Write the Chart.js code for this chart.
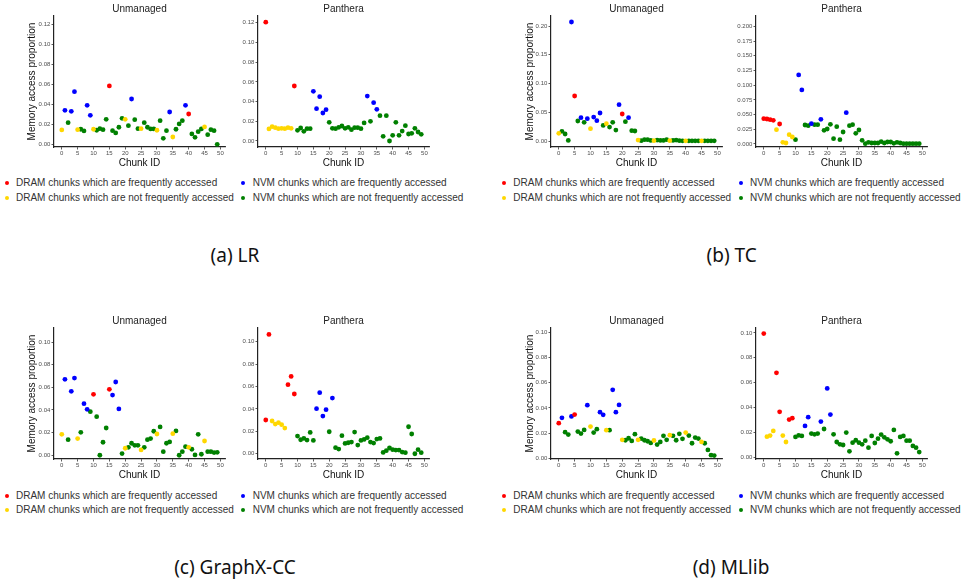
<!DOCTYPE html>
<html><head><meta charset="utf-8">
<script src="https://cdn.jsdelivr.net/npm/chart.js@4.4.1/dist/chart.umd.min.js"></script>
<style>
html,body{margin:0;padding:0;background:#fff;}
#fig{position:relative;width:966px;height:585px;overflow:hidden;font-family:'Liberation Sans',Arial,sans-serif;}
canvas{position:absolute;}
.leg{position:absolute;font-size:10px;color:#333;white-space:nowrap;line-height:12px;}
.dot{position:absolute;width:4px;height:4px;border-radius:50%;}
.cap{position:absolute;font-family:'Noto Sans',sans-serif;font-size:19px;color:#111;transform:translateX(-50%);white-space:nowrap;line-height:24px;}
</style></head><body><div id="fig"></div>
<script>
// ---------- data ----------
const chunkIds = Array.from({length: 50}, (_, i) => i);
const xTicks = [0, 5, 10, 15, 20, 25, 30, 35, 40, 45, 50];
const yTicksLR = [0, 0.02, 0.04, 0.06, 0.08, 0.10, 0.12];
const yTicksTCU = [0, 0.05, 0.10, 0.15, 0.20];
const yTicksTCP = [0, 0.025, 0.05, 0.075, 0.1, 0.125, 0.15, 0.175, 0.2];
const yTicksCC = [0, 0.02, 0.04, 0.06, 0.08, 0.10];
const yTicksML = [0, 0.02, 0.04, 0.06, 0.08, 0.10];

const seriesNames = [
  'DRAM chunks which are frequently accessed',
  'DRAM chunks which are not frequently accessed',
  'NVM chunks which are frequently accessed',
  'NVM chunks which are not frequently accessed'
];
const seriesCodes = ['R', 'Y', 'B', 'G'];
const seriesColors = ['#FF0000', '#FFD700', '#0000FF', '#008000'];

// (a) LR
const lrUnmanaged = [0.0143,0.0339,0.0216,0.0329,0.0525,0.0146,0.0150,0.0133,0.0389,0.0289,
  0.0150,0.0140,0.0156,0.0146,0.0249,0.0582,0.0136,0.0113,0.0170,0.0259,
  0.0249,0.0186,0.0452,0.0246,0.0156,0.0156,0.0216,0.0170,0.0153,0.0153,
  0.0140,0.0236,0.0060,0.0136,0.0322,0.0073,0.0150,0.0203,0.0236,0.0389,
  0.0302,0.0103,0.0070,0.0126,0.0153,0.0173,0.0096,0.0146,0.0136,0.0000];
const lrUnmanagedClass = "YBGBBYGGBB" + "YGGGGRGGGG" + "YGBGGYGGGG" + "YGGGBYGGGB" + "RGGGGYGGGG";
const lrPanthera = [0.1205,0.0122,0.0145,0.0135,0.0125,0.0128,0.0125,0.0135,0.0128,0.0558,
  0.0108,0.0132,0.0098,0.0125,0.0125,0.0504,0.0328,0.0450,0.0284,0.0318,
  0.0189,0.0128,0.0125,0.0139,0.0152,0.0128,0.0139,0.0115,0.0135,0.0135,
  0.0125,0.0183,0.0456,0.0199,0.0389,0.0321,0.0257,0.0047,0.0257,0.0000,
  0.0057,0.0189,0.0057,0.0101,0.0155,0.0071,0.0078,0.0128,0.0091,0.0068];
const lrPantheraClass = "RYYYYYYYYR" + "GGGGGBBBBB" + "GGGGGGGGGG" + "GGBGBBGGGG" + "GGGGGGGGGG";

// (b) TC
const tcUnmanaged = [0.0133,0.0168,0.0122,0.0010,0.2070,0.0783,0.0348,0.0406,0.0325,0.0388,
  0.0214,0.0417,0.0354,0.0487,0.0272,0.0301,0.0243,0.0325,0.0191,0.0632,
  0.0470,0.0336,0.0406,0.0180,0.0174,0.0017,0.0006,0.0023,0.0023,0.0010,
  0.0006,0.0017,0.0010,0.0010,0.0023,0.0006,0.0010,0.0017,0.0006,0.0003,
  0.0003,0.0003,0.0003,0.0003,0.0003,0.0003,0.0003,0.0003,0.0003,0.0003];
const tcUnmanagedClass = "YGGGBRGBGB" + "YBBBGYGGGB" + "RGBGGYGGGG" + "YGGGGYGGGG" + "YGGGGYGGGG";
const tcPanthera = [0.0431,0.0425,0.0414,0.0402,0.0244,0.0340,0.0028,0.0017,0.0159,0.0119,
  0.0074,0.1173,0.0918,0.0323,0.0312,0.0346,0.0329,0.0329,0.0419,0.0232,
  0.0255,0.0334,0.0091,0.0295,0.0074,0.0204,0.0533,0.0312,0.0329,0.0181,
  0.0238,0.0062,0.0006,0.0028,0.0017,0.0017,0.0017,0.0040,0.0017,0.0034,
  0.0034,0.0011,0.0028,0.0017,0.0006,0.0005,0.0005,0.0005,0.0005,0.0005];
const tcPantheraClass = "RRRRYRYYYY" + "GBBGGBGGBG" + "GGGGGGBGGG" + "GGGGGGGGGG" + "GGGGGGGGGG";

// (c) GraphX-CC
const ccUnmanaged = [0.0185,0.0671,0.0138,0.0565,0.0682,0.0147,0.0203,0.0456,0.0406,0.0385,
  0.0538,0.0341,0.0000,0.0115,0.0241,0.0582,0.0532,0.0647,0.0409,0.0015,
  0.0062,0.0070,0.0106,0.0088,0.0088,0.0047,0.0070,0.0138,0.0147,0.0212,
  0.0188,0.0250,0.0032,0.0106,0.0118,0.0191,0.0215,0.0000,0.0032,0.0076,
  0.0070,0.0053,0.0003,0.0185,0.0009,0.0126,0.0032,0.0032,0.0024,0.0026];
const ccUnmanagedClass = "YBGBBYGBBG" + "RGGGGRBBBG" + "YGGGGYGGGG" + "YGGGGYGGGG" + "YGGGGYGGGG";
const ccPanthera = [0.0301,0.1065,0.0292,0.0265,0.0277,0.0259,0.0229,0.0616,0.0690,0.0533,
  0.0158,0.0125,0.0137,0.0122,0.0190,0.0119,0.0402,0.0545,0.0336,0.0393,
  0.0196,0.0497,0.0054,0.0042,0.0161,0.0092,0.0098,0.0104,0.0193,0.0077,
  0.0119,0.0128,0.0143,0.0104,0.0095,0.0131,0.0137,0.0012,0.0027,0.0051,
  0.0036,0.0033,0.0033,0.0015,0.0009,0.0241,0.0176,0.0000,0.0036,0.0009];
const ccPantheraClass = "RRYYYYYRRR" + "GGGGGGBBBB" + "GBGGGGGGGG" + "GGGGGGGGGG" + "GGGGGGGGGG";

// (d) MLlib
const mlUnmanaged = [0.0279,0.0321,0.0207,0.0188,0.0332,0.0347,0.0212,0.0196,0.0225,0.0422,
  0.0252,0.0204,0.0231,0.0366,0.0345,0.0223,0.0223,0.0544,0.0366,0.0424,
  0.0146,0.0143,0.0159,0.0138,0.0191,0.0146,0.0156,0.0143,0.0135,0.0122,
  0.0141,0.0109,0.0130,0.0178,0.0146,0.0183,0.0178,0.0143,0.0194,0.0154,
  0.0204,0.0180,0.0119,0.0164,0.0156,0.0130,0.0119,0.0066,0.0024,0.0021];
const mlUnmanagedClass = "RBGGBRGGGB" + "YGGBBYGBBB" + "YGGGGYGGGG" + "YGGGGYGGGG" + "YGGGGYGGGG";
const mlPanthera = [0.0995,0.0164,0.0173,0.0210,0.0679,0.0364,0.0173,0.0121,0.0302,0.0313,
  0.0162,0.0175,0.0170,0.0251,0.0321,0.0189,0.0183,0.0189,0.0286,0.0226,
  0.0553,0.0342,0.0183,0.0121,0.0102,0.0097,0.0197,0.0046,0.0116,0.0135,
  0.0116,0.0102,0.0132,0.0075,0.0170,0.0113,0.0148,0.0181,0.0159,0.0143,
  0.0127,0.0218,0.0030,0.0162,0.0170,0.0132,0.0132,0.0089,0.0075,0.0040];
const mlPantheraClass = "RYYYRRYYRR" + "GGGBBGGGBG" + "BBGGGGGGGG" + "GGGGGGGGGG" + "GGGGGGGGGG";

const captions = ['(a) LR', '(b) TC', '(c) GraphX-CC', '(d) MLlib'];

// ---------- layout ----------
const FONT = "'Liberation Sans', Arial, sans-serif";
Chart.defaults.font.family = FONT;
const fig = document.getElementById('fig');

const panels = [
  {vals: lrUnmanaged, cls: lrUnmanagedClass, title: 'Unmanaged', ytitle: true, left: 20, top: 0, yW: 34, right: 225, ymin: -0.0027, ymax: 0.128, ticks: yTicksLR, dec: 2},
  {vals: lrPanthera, cls: lrPantheraClass, title: 'Panthera', ytitle: false, left: 228, top: 0, yW: 30, right: 429, ymin: -0.0061, ymax: 0.1268, ticks: yTicksLR, dec: 2},
  {vals: tcUnmanaged, cls: tcUnmanagedClass, title: 'Unmanaged', ytitle: true, left: 518, top: 0, yW: 33, right: 722, ymin: -0.0104, ymax: 0.2174, ticks: yTicksTCU, dec: 2},
  {vals: tcPanthera, cls: tcPantheraClass, title: 'Panthera', ytitle: false, left: 726, top: 0, yW: 30, right: 927, ymin: -0.0051, ymax: 0.2175, ticks: yTicksTCP, dec: 3},
  {vals: ccUnmanaged, cls: ccUnmanagedClass, title: 'Unmanaged', ytitle: true, left: 20, top: 312, yW: 34, right: 225, ymin: -0.0033, ymax: 0.1124, ticks: yTicksCC, dec: 2},
  {vals: ccPanthera, cls: ccPantheraClass, title: 'Panthera', ytitle: false, left: 228, top: 312, yW: 30, right: 429, ymin: -0.0047, ymax: 0.1122, ticks: yTicksCC, dec: 2},
  {vals: mlUnmanaged, cls: mlUnmanagedClass, title: 'Unmanaged', ytitle: true, left: 518, top: 312, yW: 33, right: 722, ymin: -0.0006, ymax: 0.1035, ticks: yTicksML, dec: 2},
  {vals: mlPanthera, cls: mlPantheraClass, title: 'Panthera', ytitle: false, left: 726, top: 312, yW: 30, right: 927, ymin: -0.0016, ymax: 0.104, ticks: yTicksML, dec: 2}
];

const AXIS = '#222';
panels.forEach(p => {
  const cv = document.createElement('canvas');
  const w = p.right + 4 - p.left;
  const h = 169;
  cv.width = w; cv.height = h;
  cv.style.left = p.left + 'px'; cv.style.top = p.top + 'px';
  cv.style.width = w + 'px'; cv.style.height = h + 'px';
  fig.appendChild(cv);
  const datasets = seriesCodes.map((code, k) => ({
    label: seriesNames[k],
    data: chunkIds.filter(i => p.cls[i] === code).map(i => ({x: i, y: p.vals[i]})),
    backgroundColor: seriesColors[k],
    borderWidth: 0,
    pointRadius: 2.4,
    pointHoverRadius: 2.4,
    clip: false
  }));
  new Chart(cv, {
    type: 'scatter',
    data: {datasets},
    options: {
      responsive: false, animation: false, devicePixelRatio: 1,
      events: [],
      layout: {padding: {left: 0, right: 4, top: 0, bottom: 0}},
      plugins: {
        legend: {display: false},
        tooltip: {enabled: false},
        title: {display: true, text: p.title, fullSize: false, color: '#222',
          font: {size: 10, weight: 'normal', family: FONT}, padding: {top: 3.5, bottom: 0.5}}
      },
      scales: {
        x: {
          type: 'linear', min: -2.45, max: 51.45,
          afterBuildTicks: s => { s.ticks = xTicks.map(v => ({value: v})); },
          afterFit: s => { s.height = 22; },
          ticks: {font: {size: 6}, color: '#4d4d4d', padding: 0.5, maxRotation: 0, autoSkip: false,
            callback: v => String(v)},
          grid: {drawOnChartArea: false, drawTicks: true, tickLength: 2.5, color: '#333', lineWidth: 0.8},
          border: {display: true, color: AXIS, width: 1.2},
          title: {display: true, text: 'Chunk ID', color: '#111', font: {size: 10}, padding: 0}
        },
        y: {
          type: 'linear', min: p.ymin, max: p.ymax,
          afterBuildTicks: s => { s.ticks = p.ticks.map(v => ({value: v})); },
          afterFit: s => { s.width = p.yW; },
          ticks: {font: {size: 6}, color: '#4d4d4d', padding: 1.2,
            callback: v => Number(v).toFixed(p.dec)},
          grid: {drawOnChartArea: false, drawTicks: true, tickLength: 2.5, color: '#333', lineWidth: 0.8},
          border: {display: true, color: AXIS, width: 1.2},
          title: {display: p.ytitle, text: 'Memory access proportion', color: '#111', font: {size: 10}, padding: {top: 6, bottom: 0}}
        }
      }
    }
  });
});

// legends and captions
function addLegend(base, top) {
  const cols = [[0, 0], [0, 1], [1, 0], [1, 1]]; // [column, row] for R, Y, B, G
  seriesNames.forEach((name, k) => {
    const [c, r] = cols[k];
    const cx = base + c * 236.7;
    const cy = top + r * 14.4;
    const d = document.createElement('div');
    d.className = 'dot';
    d.style.left = (cx - 2) + 'px'; d.style.top = (cy - 2) + 'px';
    d.style.background = seriesColors[k];
    fig.appendChild(d);
    const t = document.createElement('div');
    t.className = 'leg';
    t.textContent = name;
    t.style.left = (cx + 9.3) + 'px'; t.style.top = (cy - 6) + 'px';
    fig.appendChild(t);
  });
}
addLegend(6.7, 183.3);
addLegend(504, 183.3);
addLegend(6.7, 495.5);
addLegend(504, 495.5);

const capPos = [[235, 255], [731.7, 255], [235, 567], [731, 567]];
captions.forEach((c, i) => {
  const d = document.createElement('div');
  d.className = 'cap';
  d.textContent = c;
  d.style.left = capPos[i][0] + 'px';
  d.style.top = (capPos[i][1] - 12) + 'px';
  fig.appendChild(d);
});
</script>
</body></html>
